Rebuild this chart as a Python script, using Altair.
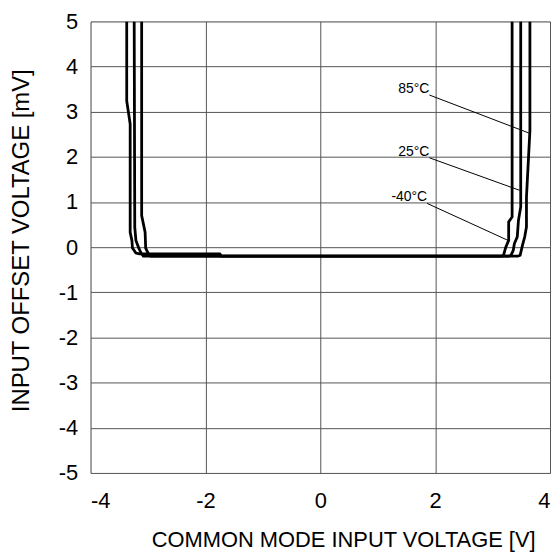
import altair as alt
import pandas as pd

# ---- data ----
temps = ["85°C", "25°C", "-40°C"]

x_85 = [-3.37, -3.37, -3.31, -3.31, -3.28, -3.27, -3.21, -3.15, -1.75, -1.72,
        3.44, 3.48, 3.52, 3.56, 3.59, 3.59, 3.65, 3.65]
y_85 = [5.0, 3.24, 2.73, 0.33, 0.15, -0.02, -0.13, -0.15, -0.15, -0.20,
        -0.20, -0.18, 0.04, 0.23, 0.45, 1.11, 2.58, 5.0]

x_25 = [-3.24, -3.23, -3.21, -3.16, -3.12, -3.08,
        3.28, 3.32, 3.36, 3.38, 3.43, 3.45, 3.49, 3.49]
y_25 = [5.0, 0.44, 0.15, -0.02, -0.13, -0.20,
        -0.20, -0.18, -0.07, 0.08, 0.23, 0.59, 0.89, 5.0]

x_m40 = [-3.11, -3.11, -3.05, -3.04, -2.98, -2.95,
         3.15, 3.19, 3.23, 3.28, 3.28, 3.34, 3.34]
y_m40 = [5.0, 0.70, 0.33, -0.02, -0.18, -0.20,
         -0.20, -0.18, 0.0, 0.15, 0.56, 0.67, 5.0]

label_x = [1.90, 1.90, 1.86]
label_y = [3.37, 1.98, 0.97]
lead_x2 = [3.63, 3.47, 3.27]
lead_y2 = [2.53, 1.26, 0.15]

x_ticks = [-4, -2, 0, 2, 4]
y_ticks = [-5, -4, -3, -2, -1, 0, 1, 2, 3, 4, 5]

# ---- tables ----
rows = []
for t, xs_, ys_ in zip(temps, [x_85, x_25, x_m40], [y_85, y_25, y_m40]):
    for i, (xv, yv) in enumerate(zip(xs_, ys_)):
        rows.append({"temp": t, "i": i, "x": xv, "y": yv})
curves = pd.DataFrame(rows)

labels = pd.DataFrame({"temp": temps, "lx": label_x, "ly": label_y,
                       "lx2": lead_x2, "ly2": lead_y2})

FONT = "Liberation Sans"

x_axis = alt.Axis(values=x_ticks, grid=True, gridColor="#555555", gridWidth=1,
                  ticks=False, tickSize=0, domain=False, labelFont=FONT, labelFontSize=22,
                  labelColor="black", labelPadding=18, labelExpr="'' + datum.value",
                  title="COMMON MODE INPUT VOLTAGE [V]", titleFont=FONT,
                  titleFontSize=22, titleFontWeight="normal", titleColor="black",
                  titleX=447, titleY=74, titleAlign="right", titleBaseline="alphabetic")
y_axis = alt.Axis(values=y_ticks, grid=True, gridColor="#555555", gridWidth=1,
                  ticks=False, tickSize=0, domain=False, labelFont=FONT, labelFontSize=22,
                  labelColor="black", labelPadding=13, labelExpr="'' + datum.value",
                  title="INPUT OFFSET VOLTAGE [mV]", titleFont=FONT,
                  titleFontSize=24, titleFontWeight="normal", titleColor="black",
                  titleX=-62, titleY=220, titleAngle=-90, titleAlign="center",
                  titleBaseline="alphabetic")

xs = alt.Scale(domain=[-4, 4], nice=False, zero=False)
ys = alt.Scale(domain=[-5, 5], nice=False, zero=False)

lines = alt.Chart(curves).mark_line(color="black", strokeWidth=2.8, clip=True).encode(
    x=alt.X("x:Q", scale=xs, axis=x_axis),
    y=alt.Y("y:Q", scale=ys, axis=y_axis),
    detail="temp:N",
    order="i:Q",
)

leaders = alt.Chart(labels).mark_rule(color="black", strokeWidth=1).encode(
    x=alt.X("lx:Q", scale=xs),
    y=alt.Y("ly:Q", scale=ys),
    x2="lx2:Q",
    y2="ly2:Q",
)

texts = alt.Chart(labels).mark_text(align="right", baseline="bottom", font=FONT,
                                    fontSize=14, color="black", dy=1).encode(
    x=alt.X("lx:Q", scale=xs),
    y=alt.Y("ly:Q", scale=ys),
    text="temp:N",
)

chart = alt.layer(lines, leaders, texts).properties(
    width=462, height=454,
    autosize=alt.AutoSizeParams(type="none"),
    padding={"left": 83, "top": 12, "right": 2, "bottom": 80},
).configure_view(stroke="black", strokeWidth=2.5).configure(background="white")

chart.save("out.html", embed_options={"renderer": "svg", "actions": False})
